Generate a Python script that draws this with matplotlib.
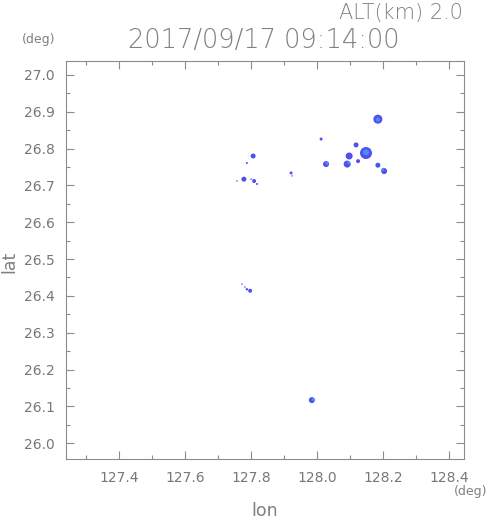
import numpy as np
import matplotlib
matplotlib.use("Agg")
import matplotlib.pyplot as plt
from matplotlib.ticker import MultipleLocator

# echo blobs (lon, lat, approx diameter in px)
lon = [127.806, 127.787, 127.778, 127.757, 127.800, 127.809, 127.818,
       127.921, 127.924, 128.184, 128.012, 128.118, 128.148, 128.097,
       128.124, 128.091, 128.027, 128.184, 128.203,
       127.772, 127.781, 127.787, 127.797, 127.984]
lat = [26.780, 26.761, 26.717, 26.712, 26.717, 26.712, 26.704,
       26.734, 26.726, 26.880, 26.826, 26.810, 26.788, 26.780,
       26.766, 26.758, 26.758, 26.755, 26.739,
       26.432, 26.424, 26.418, 26.414, 26.117]
diam = [5, 2, 5, 1.5, 1.5, 4, 2,
        3, 1.5, 9, 3, 5, 12, 7,
        4, 7, 6, 5, 6,
        1.5, 1.5, 2.5, 4, 6]

# brighter cores
core_lon = [128.148, 128.184, 128.199, 128.030, 128.096, 127.988]
core_lat = [26.790, 26.879, 26.743, 26.760, 26.762, 26.119]
core_diam = [6, 4, 3, 3, 3, 3]

gray = "#8c8c8c"
fig = plt.figure(figsize=(4.91, 5.21), dpi=100)
ax = fig.add_axes([66/491, 1-459/521, 398/491, 398/521])

ax.scatter(lon, lat, s=(np.array(diam)*0.72)**2, marker="o", color="#4f4ff2", linewidths=0)
ax.scatter(core_lon, core_lat, s=(np.array(core_diam)*0.72)**2, marker="o", color="#4a8ef2", linewidths=0)

ax.set_xlim(127.239, 128.445)
ax.set_ylim(25.957, 27.038)
ax.xaxis.set_major_locator(MultipleLocator(0.2))
ax.xaxis.set_minor_locator(MultipleLocator(0.1))
ax.yaxis.set_major_locator(MultipleLocator(0.1))
ax.yaxis.set_minor_locator(MultipleLocator(0.05))
ax.xaxis.set_major_formatter(lambda v, p: f"{v:.1f}")
ax.yaxis.set_major_formatter(lambda v, p: f"{v:.1f}")
ax.tick_params(which="both", direction="in", top=True, right=True, colors=gray,
               labelcolor="#777777", labelsize=10)
ax.tick_params(which="major", length=6, width=0.8)
ax.tick_params(which="minor", length=3, width=0.8)
ax.tick_params(axis="x", pad=9)
ax.tick_params(axis="y", pad=8)
for sp in ax.spines.values():
    sp.set_color(gray)
    sp.set_linewidth(0.8)

fig.text(264/491, 1-40/521, "2017/09/17 09:14:00", ha="center", va="center",
         fontsize=18.5, color="#808080", fontweight="light")
fig.text(463/491, 1-13/521, "ALT(km) 2.0", ha="right", va="center",
         fontsize=15, color="#808080", fontweight="light")
fig.text(39/491, 1-40/521, "(deg)", ha="center", va="center", fontsize=9, color="#808080")
fig.text(471/491, 1-491/521, "(deg)", ha="center", va="center", fontsize=9, color="#808080")
fig.text(265/491, 1-511/521, "lon", ha="center", va="center", fontsize=12.5, color="#808080")
fig.text(9/491, 1-262/521, "lat", ha="center", va="center", rotation=90, fontsize=12.5, color="#808080")

fig.savefig("out.png", dpi=100)
